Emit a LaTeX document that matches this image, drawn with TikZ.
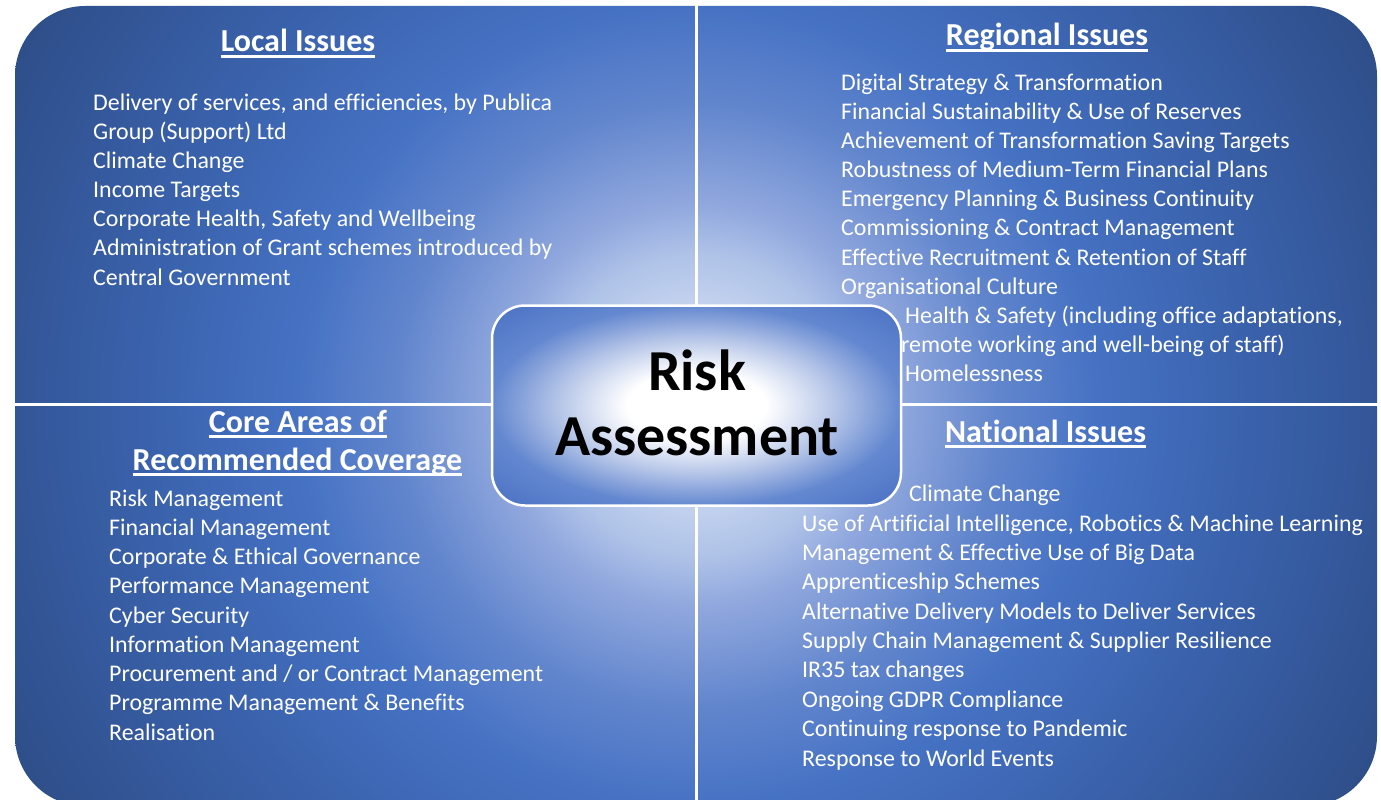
\documentclass[tikz,border=0pt]{standalone}
\usepackage{fontspec}
\setmainfont[Ligatures=NoCommon]{Carlito}
\pgfdeclareradialshading{bgshade}{\pgfpoint{0bp}{0bp}}{%
  color(0bp)=(rgb,255:red,235;green,240;blue,250);
  color(4.7bp)=(rgb,255:red,175;green,195;blue,232);
  color(6.25bp)=(rgb,255:red,145;green,168;blue,222);
  color(9.375bp)=(rgb,255:red,98;green,134;blue,205);
  color(12.5bp)=(rgb,255:red,70;green,114;blue,196);
  color(17.2bp)=(rgb,255:red,58;green,98;blue,172);
  color(21.875bp)=(rgb,255:red,50;green,84;blue,148);
  color(25bp)=(rgb,255:red,45;green,76;blue,132);
  color(50bp)=(rgb,255:red,45;green,76;blue,132)}
\pgfdeclareradialshading{boxshade}{\pgfpoint{0bp}{0bp}}{%
  color(0bp)=(rgb,255:red,255;green,255;blue,255);
  color(8.5bp)=(rgb,255:red,255;green,255;blue,255);
  color(16.5bp)=(rgb,255:red,185;green,200;blue,233);
  color(25bp)=(rgb,255:red,100;green,136;blue,208);
  color(36bp)=(rgb,255:red,72;green,110;blue,194);
  color(50bp)=(rgb,255:red,72;green,110;blue,194)}
\begin{document}
\begin{tikzpicture}[x=1pt,y=-1pt,
  item/.style={anchor=base west, inner sep=0pt, text=white,
    font=\fontsize{23.9}{29.2}\selectfont},
  heading/.style={anchor=base, inner sep=0pt, text=white,
    font=\bfseries\fontsize{32}{39}\selectfont},
  uline/.style={white, line width=2.4pt},
  gap/.style={white, line width=3pt},
  corebox/.style={draw=white, line width=2.5pt, rounded corners=33pt,
    shade, shading=boxshade, minimum width=409pt, minimum height=200pt, inner sep=0pt},
  coretext/.style={anchor=base, inner sep=0pt, text=black,
    font=\bfseries\fontsize{58}{66}\selectfont}
]
\useasboundingbox (0,0) rectangle (1381,800);
\fill[white] (0,0) rectangle (1381,800);

% background quadrants
\begin{scope}
  \clip[rounded corners=70pt] (15,6) rectangle (1377,806);
  \shade[shading=bgshade] (-103,-395) rectangle (1497,1205);
\end{scope}
\coordinate (vtop) at (696.5,0);
\coordinate (vbot) at (696.5,800);
\coordinate (hl) at (0,404.5);
\coordinate (hr) at (1381,404.5);
\draw[gap] (vtop) -- (vbot);
\draw[gap] (hl) -- (hr);

% centre box
\node[corebox] (core) at (696.5,405.5) {};
\node[coretext] (risk) at (697,390) {Risk};
\node[coretext] (assess) at (697,455) {Assessment};

% headings
\node[heading] (hloc) at (298,52) {Local Issues};
\draw[uline] ([yshift=-4.6pt]hloc.base west) -- ([yshift=-4.6pt]hloc.base east);
\node[heading] (hreg) at (1047,46) {Regional Issues};
\draw[uline] ([yshift=-4.6pt]hreg.base west) -- ([yshift=-4.6pt]hreg.base east);
\node[heading] (hcore1) at (298,432) {Core Areas of};
\draw[uline] ([yshift=-4.6pt]hcore1.base west) -- ([yshift=-4.6pt]hcore1.base east);
\node[heading] (hcore2) at (297.5,470) {Recommended Coverage};
\draw[uline] ([yshift=-4.6pt]hcore2.base west) -- ([yshift=-4.6pt]hcore2.base east);
\node[heading] (hnat) at (1045.5,442) {National Issues};
\draw[uline] ([yshift=-4.6pt]hnat.base west) -- ([yshift=-4.6pt]hnat.base east);

% local issues
\foreach \t [count=\i from 0] in {
  {Delivery of services, and efficiencies, by Publica},
  {Group (Support) Ltd},
  {Climate Change},
  {Income Targets},
  {Corporate Health, Safety and Wellbeing},
  {Administration of Grant schemes introduced by},
  {Central Government}}
  \node[item] (loc\i) at (93,{110+29.17*\i}) {\t};

% regional issues
\foreach \t [count=\i from 0] in {
  {Digital Strategy \& Transformation},
  {Financial Sustainability \& Use of Reserves},
  {Achievement of Transformation Saving Targets},
  {Robustness of Medium-Term Financial Plans},
  {Emergency Planning \& Business Continuity},
  {Commissioning \& Contract Management},
  {Effective Recruitment \& Retention of Staff},
  {Organisational Culture}}
  \node[item] (reg\i) at (841,{90+29.17*\i}) {\t};
\node[item] (reg8) at (905,{90+29.17*8}) {Health \& Safety (including office adaptations,};
\node[item] (reg9) at (901,{90+29.17*9}) {remote working and well-being of staff)};
\node[item] (reg10) at (905,{90+29.17*10}) {Homelessness};

% core areas
\foreach \t [count=\i from 0] in {
  {Risk Management},
  {Financial Management},
  {Corporate \& Ethical Governance},
  {Performance Management},
  {Cyber Security},
  {Information Management},
  {Procurement and / or Contract Management},
  {Programme Management \& Benefits},
  {Realisation}}
  \node[item] (cor\i) at (109,{506+29.25*\i}) {\t};

% national issues
\node[item] (nat0) at (909,501.7) {Climate Change};
\foreach \t [count=\i from 1] in {
  {Use of Artificial Intelligence, Robotics \& Machine Learning},
  {Management \& Effective Use of Big Data},
  {Apprenticeship Schemes},
  {Alternative Delivery Models to Deliver Services},
  {Supply Chain Management \& Supplier Resilience},
  {IR35 tax changes},
  {Ongoing GDPR Compliance},
  {Continuing response to Pandemic},
  {Response to World Events}}
  \node[item] (nat\i) at (802,{501.7+29.37*\i}) {\t};
\end{tikzpicture}
\end{document}
